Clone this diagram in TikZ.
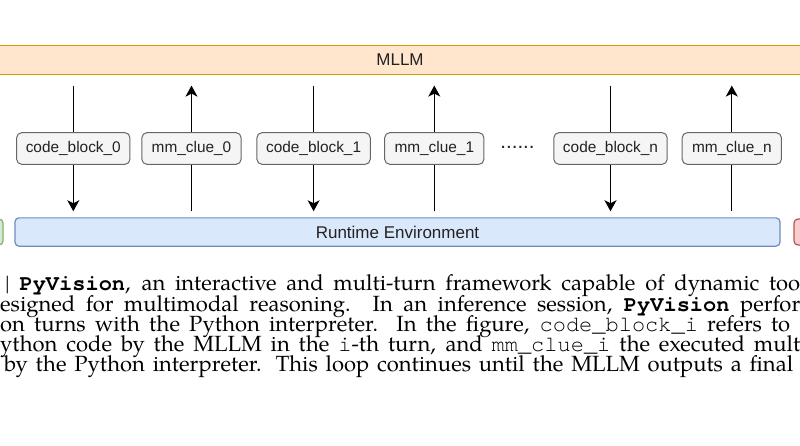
\documentclass[tikz,border=0pt]{standalone}
\usepackage{fontspec}
\setmainfont{Liberation Sans}
\IfFontExistsTF{TeX Gyre Pagella}{\newfontfamily\capfont{TeX Gyre Pagella}}{\newfontfamily\capfont{Liberation Serif}}
\IfFontExistsTF{TeX Gyre Cursor}{\newfontfamily\capmono{TeX Gyre Cursor}}{\newfontfamily\capmono{Liberation Mono}}
\usetikzlibrary{arrows.meta}
\definecolor{mllmfill}{HTML}{FFE6CC}
\definecolor{mllmdraw}{HTML}{D79B00}
\definecolor{rtfill}{HTML}{DAE8FC}
\definecolor{rtdraw}{HTML}{6C8EBF}
\definecolor{gfill}{HTML}{D5E8D4}
\definecolor{gdraw}{HTML}{82B366}
\definecolor{rfill}{HTML}{F8CECC}
\definecolor{rdraw}{HTML}{B85450}
\definecolor{boxfill}{HTML}{F5F5F5}
\definecolor{boxdraw}{HTML}{666666}
\definecolor{boxtext}{HTML}{222222}
\tikzset{
  bar/.style={draw, line width=1.2pt, inner sep=0pt, font=\fontsize{17}{20}\selectfont, text=boxtext},
  mllmbar/.style={bar, fill=mllmfill, draw=mllmdraw},
  rtbar/.style={bar, fill=rtfill, draw=rtdraw, rounded corners=4pt},
  gbar/.style={bar, fill=gfill, draw=gdraw, rounded corners=4pt},
  rbar/.style={bar, fill=rfill, draw=rdraw, rounded corners=4pt},
  msgbox/.style={draw=boxdraw, fill=boxfill, line width=1pt, rounded corners=5pt,
    minimum height=31.6pt, inner sep=0pt, text=boxtext, font=\fontsize{15.4}{18}\selectfont},
  codebox/.style={msgbox, minimum width=113.3pt},
  cluebox/.style={msgbox, minimum width=99.2pt},
  flow/.style={line width=1.2pt, -{Stealth[length=11pt,width=12pt,inset=3pt]}},
  down/.style={flow, shorten <=10.7pt, shorten >=6pt},
  up/.style={flow, shorten <=6pt, shorten >=10.7pt},
  capline/.style={anchor=base west, inner sep=0pt, font=\capfont\fontsize{22}{24}\selectfont}
}
\begin{document}
\begin{tikzpicture}[x=1pt,y=-1pt]
\useasboundingbox (0,0) rectangle (800,445);
\begin{scope}
\clip (0,0) rectangle (800,445);
\node[mllmbar, minimum width=840pt, minimum height=28.6pt] (mllm) at (400,60) {MLLM};
\node[rtbar, minimum width=765pt, minimum height=28.3pt] (rt) at (397.5,232) {Runtime Environment};
\node[gbar, minimum width=40pt, minimum height=26pt] (genv) at (-17,232) {};
\node[rbar, minimum width=40pt, minimum height=26pt] (renv) at (814,232) {};

\coordinate (p0) at (73.3,148.5);
\coordinate (p1) at (191.5,148.5);
\coordinate (p2) at (313.6,148.5);
\coordinate (p3) at (434.3,148.5);
\coordinate (p4) at (610.5,148.5);
\coordinate (p5) at (731.8,148.5);

\draw[down] (mllm.south -| p0) -- (rt.north -| p0);
\draw[up]   (rt.north -| p1) -- (mllm.south -| p1);
\draw[down] (mllm.south -| p2) -- (rt.north -| p2);
\draw[up]   (rt.north -| p3) -- (mllm.south -| p3);
\draw[down] (mllm.south -| p4) -- (rt.north -| p4);
\draw[up]   (rt.north -| p5) -- (mllm.south -| p5);

\node[codebox] (cb0) at (p0) {code\_block\_0};
\node[cluebox] (mc0) at (p1) {mm\_clue\_0};
\node[codebox] (cb1) at (p2) {code\_block\_1};
\node[cluebox] (mc1) at (p3) {mm\_clue\_1};
\node[anchor=base, inner sep=0pt, text=boxtext, font=\fontsize{20.5}{22}\selectfont] (dots) at (517.5,148.5) {......};
\node[codebox] (cbn) at (p4) {code\_block\_n};
\node[cluebox] (mcn) at (p5) {mm\_clue\_n};

\node[capline] (l1) at (5,290.7) {\makebox[795pt][s]{| {\capmono\bfseries PyVision}, an interactive and multi-turn framework capable of dynamic too}};
\node[capline] (l2) at (0,311) {\makebox[800pt][s]{esigned for multimodal reasoning. In an inference session, {\capmono\bfseries PyVision} perfor}};
\node[capline] (l3) at (0,331.2) {\makebox[790pt][s]{on turns with the Python interpreter. In the figure, {\capmono code\_block\_i} refers to}};
\node[capline] (l4) at (0,351.6) {\makebox[800pt][s]{ython code by the MLLM in the {\capmono i}-th turn, and {\capmono mm\_clue\_i} the executed mult}};
\node[capline] (l5) at (4,371.8) {\makebox[789pt][s]{by the Python interpreter. This loop continues until the MLLM outputs a final}};
\end{scope}
\end{tikzpicture}
\end{document}
